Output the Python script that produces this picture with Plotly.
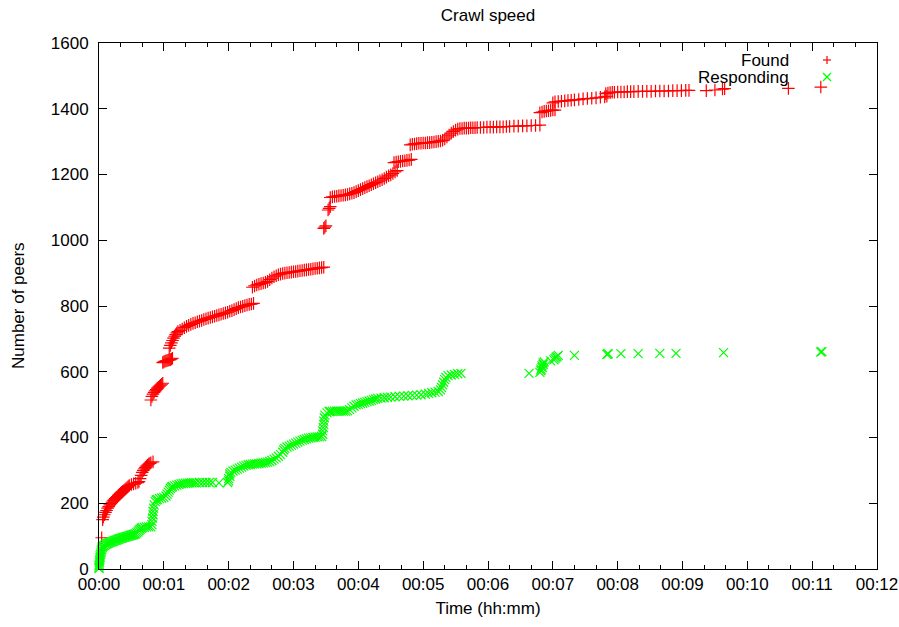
import plotly.graph_objects as go

# Peers found: seconds since crawl start, cumulative number of peers
found_sec = [
    2.5,
    3.4, 4, 5, 6, 7, 8, 9, 10, 11, 12, 13, 14, 15, 16, 17, 18, 19, 20, 21, 22,
    23, 24, 25, 26, 27, 28, 30, 32, 34, 36, 37, 38, 39, 40, 41, 42, 43, 44, 45,
    46, 47, 48, 50,
    48, 49, 50, 51, 52, 53, 54, 55, 56, 57, 58, 59,
    59, 60, 61, 62, 63, 64, 65, 66, 67, 68,
    65, 66, 67, 68, 69, 70, 71, 72, 73, 75, 77, 79, 81, 83, 85, 87, 89, 91, 93,
    95, 97, 99, 101, 103, 105, 107, 109, 111, 113, 115, 117, 119, 121, 123,
    125, 127, 129, 131, 133, 135, 137, 139, 141, 143,
    142, 144, 146, 148, 150, 152, 154, 156, 158, 160, 162, 164, 166, 168, 170,
    172, 174, 176, 178, 180, 182, 184, 186, 188, 190, 192, 194, 196, 198, 200,
    202, 204, 206, 208,
    208, 209, 210,
    212, 213, 214,
    214, 216, 218, 220, 222, 224, 226, 228, 230, 232, 234, 236, 238, 240, 242,
    244, 246, 248, 250, 252, 254, 256, 258, 260, 262, 264, 266, 268, 270, 272,
    274, 276,
    273, 275, 277, 279, 281, 283, 285, 287, 289,
    288, 290, 292, 294, 296, 298, 300, 302, 304, 306, 308, 310, 312, 314, 316,
    318, 320, 322, 324, 326, 328, 330, 332,
    334, 336, 338, 340, 342, 344, 346, 348, 350, 353, 356, 359, 362, 365, 368,
    371, 374, 377, 380, 384, 388, 392, 396, 400, 404, 408,
    408, 410, 412, 414, 416, 418, 420, 422,
    420, 422, 425, 428, 431, 434, 437, 440, 444, 448, 452, 456, 460, 464, 468,
    470,
    469, 471, 473, 475, 477, 480, 483, 486, 489, 492, 495, 499, 503, 507, 511,
    515, 519, 523, 527, 531, 535, 539, 543, 546,
    562, 570, 577, 579, 638, 668,
]
found_count = [
    95,
    150, 158, 165, 172, 178, 185, 190, 195, 199, 203, 207, 210, 214, 217, 220,
    224, 227, 230, 233, 236, 239, 242, 245, 248, 251, 254, 257, 259, 261, 263,
    266, 275, 285, 294, 300, 305, 309, 313, 316, 319, 321, 323, 326,
    514, 525, 532, 537, 542, 546, 550, 553, 556, 559, 562, 565,
    628, 630, 632, 633, 634, 635, 636, 637, 639, 641,
    672, 680, 688, 695, 702, 708, 713, 718, 722, 726, 730, 734, 738, 741, 744,
    747, 749, 752, 754, 756, 759, 761, 763, 765, 767, 769, 771, 773, 775, 777,
    779, 781, 784, 786, 789, 792, 795, 797, 799, 801, 803, 805, 806, 808,
    857, 861, 864, 866, 868, 870, 872, 875, 880, 885, 889, 892, 895, 897, 899,
    900, 901, 902, 903, 904, 905, 906, 907, 908, 909, 910, 911, 912, 913, 914,
    915, 916, 917, 918,
    1036, 1040, 1044,
    1092, 1097, 1102,
    1130, 1132, 1133, 1134, 1135, 1136, 1137, 1138, 1139, 1141, 1143, 1145,
    1148, 1151, 1154, 1157, 1160, 1163, 1166, 1169, 1172, 1175, 1178, 1181,
    1184, 1188, 1192, 1196, 1199, 1203, 1208, 1212,
    1236, 1238, 1239, 1240, 1241, 1242, 1243, 1244, 1246,
    1290, 1292, 1293, 1294, 1295, 1295, 1296, 1296, 1297, 1297, 1298, 1299,
    1300, 1301, 1302, 1304, 1308, 1314, 1320, 1326, 1331, 1335, 1338,
    1340, 1340, 1341, 1341, 1341, 1342, 1342, 1342, 1343, 1343, 1343, 1344,
    1344, 1344, 1345, 1345, 1345, 1346, 1346, 1347, 1347, 1348, 1348, 1349,
    1349, 1350,
    1388, 1390, 1392, 1393, 1394, 1395, 1396, 1396,
    1418, 1421, 1422, 1423, 1424, 1425, 1426, 1427, 1428, 1430, 1431, 1432,
    1433, 1435, 1436, 1438,
    1446, 1448, 1449, 1450, 1450, 1451, 1451, 1451, 1452, 1452, 1452, 1453,
    1453, 1453, 1453, 1454, 1454, 1454, 1454, 1455, 1455, 1455, 1456, 1456,
    1455, 1457, 1460, 1461, 1462, 1466,
]

# Peers responding: seconds since crawl start, cumulative number of peers
resp_sec = [
    0, 0, 0, 0.3, 0.5, 0.5, 0.8, 1, 1, 1.5, 2, 2, 2.5, 3,
    3, 4, 5, 6, 7, 8, 9, 10, 11, 12, 13, 14, 15, 16, 17, 18, 19, 20, 21, 22,
    23, 24, 25, 26, 27, 28, 29, 30, 31, 32, 33, 34, 35, 36, 37, 38, 39, 40,
    42, 44, 46, 48, 49, 49, 49.5, 50, 50, 50.5, 51, 52, 53,
    54, 56, 58, 60, 62, 63, 64, 65, 66, 67, 68, 70, 72, 74, 76, 78, 80, 82,
    84, 86, 88, 90, 93, 96, 99, 102, 105, 111,
    119, 120, 120, 121, 121, 122, 124, 126, 128, 130, 132, 134, 136, 138, 140,
    142, 144, 146, 148, 150, 152, 154, 156, 158, 160, 162, 164, 166, 168, 170,
    171, 172, 174, 176, 178, 180, 182, 184, 186, 188, 190, 192, 194, 196, 198,
    200, 202, 204, 206,
    207, 207, 207.5, 208, 208, 208.5, 209, 211, 213,
    214, 216, 218, 220, 222, 224, 226, 228, 230, 232, 234, 236, 238, 240, 242,
    244, 246, 248, 250, 252, 254, 256, 258, 261, 264, 267, 270, 274, 278, 282,
    286, 290, 294, 298, 302, 305, 308, 311, 314,
    316, 317, 318, 319, 320, 321, 323, 326, 329, 332, 335,
    398, 408, 409, 409, 410, 410, 411, 411, 412, 418, 421, 422, 423, 424, 425,
    440, 470, 471, 471, 483, 499, 519, 534, 578, 668, 669,
]
resp_count = [
    1, 5, 10, 15, 20, 25, 30, 35, 40, 45, 50, 55, 60, 65,
    68, 70, 72, 74, 76, 77, 79, 80, 82, 83, 84, 86, 87, 88, 89, 91, 92, 93,
    94, 95, 96, 97, 98, 99, 100, 101, 102, 103, 104, 105, 106, 107, 110, 113,
    117, 121, 124, 126, 127, 128, 128, 128, 135, 145, 155, 165, 175, 185, 195,
    205, 210,
    212, 214, 216, 218, 222, 228, 234, 240, 245, 249, 251, 253, 255, 257, 259,
    260, 261, 261, 262, 262, 262, 262, 263, 263, 263, 263, 263, 262,
    263, 268, 275, 282, 289, 294, 298, 301, 304, 307, 310, 313, 315, 317, 318,
    319, 320, 320, 321, 322, 323, 324, 325, 327, 330, 334, 338, 343, 348, 355,
    362, 367, 371, 374, 377, 380, 383, 386, 389, 392, 394, 396, 398, 399, 400,
    401, 402, 402, 403,
    410, 420, 430, 440, 450, 460, 468, 475, 479,
    479, 479, 480, 480, 480, 480, 480, 480, 481, 485, 490, 495, 499, 501, 503,
    505, 507, 509, 511, 513, 515, 517, 519, 520, 521, 522, 523, 524, 525, 526,
    527, 528, 529, 530, 532, 534, 536, 538, 540,
    545, 552, 560, 568, 576, 583, 588, 590, 592, 594, 595,
    595, 598, 603, 608, 613, 618, 622, 627, 630, 633, 636, 640, 644, 647, 650,
    650, 653, 654, 655, 655, 655, 656, 656, 658, 660, 661,
]

series_names = ["Found", "Responding"]
series_colors = ["#ff0000", "#00ff00"]

time_ticks = [0, 60, 120, 180, 240, 300, 360, 420, 480, 540, 600, 660, 720]
time_labels = ["00:00", "00:01", "00:02", "00:03", "00:04", "00:05", "00:06",
               "00:07", "00:08", "00:09", "00:10", "00:11", "00:12"]
count_ticks = [0, 200, 400, 600, 800, 1000, 1200, 1400, 1600]

FONT = "Liberation Sans, Arial, Helvetica, sans-serif"
FS = 17

fig = go.Figure()
fig.add_trace(go.Scatter(
    x=found_sec, y=found_count, mode="markers", name=series_names[0],
    cliponaxis=False,
    marker=dict(symbol="cross-thin", size=9, color=series_colors[0],
                line=dict(color=series_colors[0], width=1.2)),
))
fig.add_trace(go.Scatter(
    x=resp_sec, y=resp_count, mode="markers", name=series_names[1],
    cliponaxis=False,
    marker=dict(symbol="x-thin", size=9, color=series_colors[1],
                line=dict(color=series_colors[1], width=1.2)),
))

# plot-area geometry in pixels
W, H = 899, 627
L, R, T, B = 99, 22, 43, 58
PW, PH = W - L - R, H - T - B


def px_x(px):
    return (px - L) / PW


def px_y(py):
    return (H - B - py) / PH


# key drawn gnuplot-style: text first, sample mark on the right
key_rows = [(60, series_names[0], "plus", series_colors[0]),
            (77, series_names[1], "cross", series_colors[1])]
annotations = []
shapes = []
for py, label, kind, col in key_rows:
    annotations.append(dict(
        text=label, xref="paper", yref="paper", x=px_x(791), y=px_y(py),
        xanchor="right", yanchor="middle", showarrow=False,
        font=dict(family=FONT, size=FS, color="black"),
    ))
    cx, cy = 827, py
    if kind == "plus":
        segs = [((cx - 4, cy), (cx + 4, cy)), ((cx, cy - 4), (cx, cy + 4))]
    else:
        segs = [((cx - 4, cy - 4), (cx + 4, cy + 4)),
                ((cx - 4, cy + 4), (cx + 4, cy - 4))]
    for (x0, y0), (x1, y1) in segs:
        shapes.append(dict(
            type="line", xref="paper", yref="paper",
            x0=px_x(x0), y0=px_y(y0), x1=px_x(x1), y1=px_y(y1),
            line=dict(color=col, width=1.2),
        ))

# vertical axis title, placed at the left edge of the canvas
annotations.append(dict(
    text="Number of peers", xref="paper", yref="paper",
    x=px_x(18), y=0.5, xanchor="center", yanchor="middle",
    textangle=-90, showarrow=False,
    font=dict(family=FONT, size=FS, color="black"),
))

axis_common = dict(
    showgrid=False, zeroline=False, showline=True, linecolor="black",
    linewidth=1, mirror="allticks", ticks="inside", ticklen=8, tickwidth=1,
    tickcolor="black", tickfont=dict(family=FONT, size=FS, color="black"),
    automargin=False,
)

fig.update_layout(
    width=W, height=H,
    margin=dict(l=L, r=R, t=T, b=B, pad=0),
    paper_bgcolor="white", plot_bgcolor="white",
    showlegend=False,
    title=dict(text="Crawl speed", x=0.5, xref="paper", xanchor="center",
               y=1 - 15 / H, yref="container", yanchor="middle",
               font=dict(family=FONT, size=FS, color="black")),
    xaxis=dict(
        range=[0, 720], tickmode="array", tickvals=time_ticks,
        ticktext=time_labels,
        minor=dict(ticks="inside", ticklen=4, tickcolor="black", dtick=20,
                   tick0=0, showgrid=False),
        title=dict(text="Time (hh:mm)", standoff=8,
                   font=dict(family=FONT, size=FS, color="black")),
        **axis_common,
    ),
    yaxis=dict(
        range=[0, 1600], tickmode="array", tickvals=count_ticks,
        ticklabelstandoff=6,
        **axis_common,
    ),
    annotations=annotations,
    shapes=shapes,
)

fig.write_html("out.html")
